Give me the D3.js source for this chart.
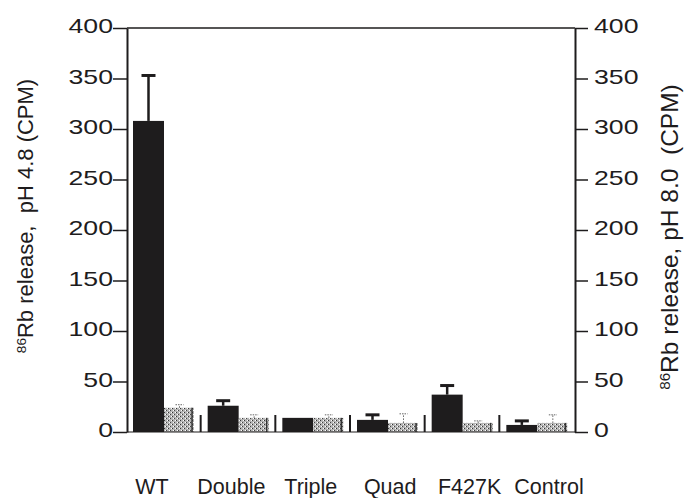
<!DOCTYPE html>
<html>
<head>
<meta charset="utf-8">
<script src="https://cdn.jsdelivr.net/npm/d3@7.9.0/dist/d3.min.js"></script>
<style>
  body { margin: 0; background: #fff; }
  svg { display: block; font-family: "Liberation Sans", Arial, sans-serif; }
</style>
</head>
<body>
<svg id="chart" width="699" height="498"></svg>
<script>
// Data
const groups = ["WT", "Double", "Triple", "Quad", "F427K", "Control"];
const ph48 = [308, 26, 14, 12, 37, 7];        // black bars, left axis
const ph48Err = [45, 5, 0, 5, 9, 4];
const ph80 = [24, 14, 14, 9, 9, 9];           // stippled bars, right axis
const ph80Err = [3, 3, 3, 9, 2, 8];
const yTicks = [0, 50, 100, 150, 200, 250, 300, 350, 400];

const svg = d3.select("#chart");
const plotL = 127, plotR = 575, plotT = 28, plotB = 432;

// x band per group, y shared 0-400 on both sides
const x = d3.scaleBand().domain(groups).range([plotL, plotR]);
// category names sit on their own, a bit wider spread than the bars
const xLab = d3.scalePoint().domain(groups).range([152, 549]);
const yL = d3.scaleLinear().domain([0, 400]).range([plotB, plotT]);
const yR = d3.scaleLinear().domain([0, 400]).range([plotB, plotT]);

// stipple pattern for the pH 8.0 bars
const defs = svg.append("defs");
const pat = defs.append("pattern")
  .attr("id", "stipple")
  .attr("patternUnits", "userSpaceOnUse")
  .attr("width", 4).attr("height", 4);
pat.append("rect").attr("width", 4).attr("height", 4).attr("fill", "#b4b4b4");
pat.append("rect").attr("x", 0).attr("y", 0).attr("width", 1).attr("height", 1).attr("fill", "#333");
pat.append("rect").attr("x", 2).attr("y", 2).attr("width", 1).attr("height", 1).attr("fill", "#444");
pat.append("rect").attr("x", 1).attr("y", 2).attr("width", 1).attr("height", 1).attr("fill", "#fff");
pat.append("rect").attr("x", 3).attr("y", 0).attr("width", 1).attr("height", 1).attr("fill", "#fff");

const barW = 31, off = 6;

// bars
groups.forEach((g, i) => {
  const x0 = x(g) + off;
  // black bar
  svg.append("rect")
    .attr("x", x0).attr("y", yL(ph48[i]))
    .attr("width", barW).attr("height", yL(0) - yL(ph48[i]))
    .attr("fill", "#1e1c1d");
  // stippled bar
  svg.append("rect")
    .attr("x", x0 + barW).attr("y", yR(ph80[i]))
    .attr("width", barW - 1).attr("height", yR(0) - yR(ph80[i]))
    .attr("fill", "url(#stipple)");
  svg.append("line")
    .attr("x1", x0 + 2 * barW - 3).attr("x2", x0 + 2 * barW - 3)
    .attr("y1", yR(ph80[i])).attr("y2", yR(0))
    .attr("stroke", "#333").attr("stroke-width", 1.5);

  // black error bar
  if (ph48Err[i] > 0) {
    const cx = x0 + barW / 2;
    const yTop = yL(ph48[i] + ph48Err[i]);
    svg.append("line")
      .attr("x1", cx).attr("x2", cx)
      .attr("y1", yL(ph48[i])).attr("y2", yTop)
      .attr("stroke", "#1e1c1d").attr("stroke-width", 2.5);
    svg.append("line")
      .attr("x1", cx - 7).attr("x2", cx + 7)
      .attr("y1", yTop).attr("y2", yTop)
      .attr("stroke", "#1e1c1d").attr("stroke-width", 3);
  }
  // stippled error bar
  const cx2 = x0 + barW + barW / 2;
  const yTop2 = yR(ph80[i] + ph80Err[i]);
  svg.append("line")
    .attr("x1", cx2).attr("x2", cx2)
    .attr("y1", yR(ph80[i])).attr("y2", yTop2)
    .attr("stroke", "#666").attr("stroke-width", 1)
    .attr("stroke-dasharray", "1.5,1.5");
  svg.append("line")
    .attr("x1", cx2 - 4).attr("x2", cx2 + 4)
    .attr("y1", yTop2).attr("y2", yTop2)
    .attr("stroke", "#666").attr("stroke-width", 1)
    .attr("stroke-dasharray", "1.5,1");
});

// left axis
const axL = svg.append("g")
  .attr("transform", `translate(${plotL},0)`)
  .call(d3.axisLeft(yL).tickValues(yTicks).tickSize(14).tickPadding(0).tickSizeOuter(0));
// right axis
const axR = svg.append("g")
  .attr("transform", `translate(${plotR},0)`)
  .call(d3.axisRight(yR).tickValues(yTicks).tickSize(13).tickPadding(6).tickSizeOuter(0));

[axL, axR].forEach(ax => {
  ax.select(".domain").attr("stroke", "#1e1c1d").attr("stroke-width", 2);
  ax.selectAll(".tick line").attr("stroke", "#1e1c1d").attr("stroke-width", 1.5);
  ax.selectAll(".tick text")
    .attr("fill", "#1e1c1d")
    .attr("dy", "0.22em")
    .style("font-size", "21px")
    .style("font-family", "'Liberation Sans', Arial, sans-serif")
    .each(function () {
      // the printed digits are drawn wide
      const w = this.getComputedTextLength();
      d3.select(this).attr("textLength", w * 1.27).attr("lengthAdjust", "spacingAndGlyphs");
    });
});

// top frame line and baseline
svg.append("line")
  .attr("x1", plotL).attr("x2", plotR).attr("y1", plotT).attr("y2", plotT)
  .attr("stroke", "#1e1c1d").attr("stroke-width", 1.5);
svg.append("line")
  .attr("x1", plotL).attr("x2", plotR).attr("y1", plotB).attr("y2", plotB)
  .attr("stroke", "#1e1c1d").attr("stroke-width", 1.2);

// group separators pointing up from the baseline
svg.selectAll(".sep")
  .data(groups.slice(1))
  .join("line")
  .attr("class", "sep")
  .attr("x1", d => x(d) - 1).attr("x2", d => x(d) - 1)
  .attr("y1", plotB - 17).attr("y2", plotB)
  .attr("stroke", "#1e1c1d").attr("stroke-width", 2);

// category labels
svg.selectAll(".cat")
  .data(groups)
  .join("text")
  .attr("class", "cat")
  .attr("x", d => xLab(d))
  .attr("y", 494)
  .attr("text-anchor", "middle")
  .attr("fill", "#1e1c1d")
  .style("font-size", "21.5px")
  .text(d => d);

// axis titles
function yTitle(tx, ty, size, text) {
  const t = svg.append("text")
    .attr("transform", `translate(${tx},${ty}) rotate(-90)`)
    .attr("text-anchor", "middle")
    .attr("fill", "#1e1c1d")
    .style("font-size", size + "px");
  t.append("tspan").attr("baseline-shift", "super").style("font-size", (size * 0.62) + "px").text("86");
  t.append("tspan").style("white-space", "pre").text(text);
}
yTitle(33, 216, 22, "Rb release,  pH 4.8 (CPM)");
yTitle(678, 237, 24.5, "Rb release, pH 8.0  (CPM)");
</script>
</body>
</html>
